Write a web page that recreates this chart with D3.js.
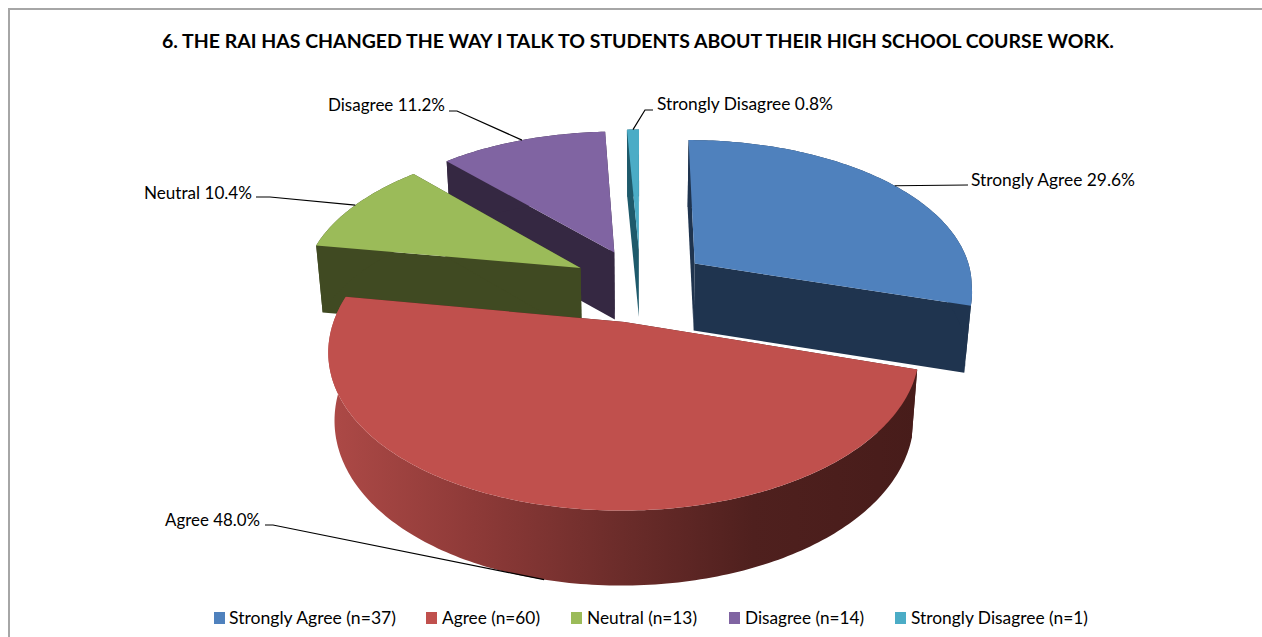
<!DOCTYPE html>
<html>
<head>
<meta charset="utf-8">
<script src="https://cdn.jsdelivr.net/npm/d3@7/dist/d3.min.js"></script>
<style>
html,body{margin:0;padding:0;background:#fff;}
svg{display:block;}
text{font-family:Lato,"Open Sans",sans-serif;fill:#000;}
</style>
</head>
<body>
<svg id="chart" width="1262" height="637"></svg>
<script>
// Survey responses
const categories = ["Strongly Agree", "Agree", "Neutral", "Disagree", "Strongly Disagree"];
const counts = [37, 60, 13, 14, 1];
const percentLabels = ["29.6%", "48.0%", "10.4%", "11.2%", "0.8%"];
const topColors = ["#4F81BD", "#C0504D", "#9BBB59", "#8064A2", "#4BACC6"];
const wallColors = ["#1F344F", "#4A1E1C", "#404A22", "#352842", "#1E5A6B"];
const drawOrder = [4, 3, 0, 2, 1];

const titleText = "6. THE RAI HAS CHANGED THE WAY I TALK TO STUDENTS ABOUT THEIR HIGH SCHOOL COURSE WORK.";

// Label placement: text box left/baseline/width, then the elbow of its leader
const labelX = [971, 165, 144, 328, 657];
const labelY = [186, 526, 199, 111, 110];
const labelW = [164, 95, 108, 117, 176];
const elbowStart = [[968, 185], [265, 525], [256, 197], [449, 111], [653, 110]];
const elbowEnd = [[968, 185], [273, 525], [270, 197], [457, 111], [645, 110]];

// Legend placement
const legendSwatchX = [214, 426, 571, 729, 895];
const legendTextX = [229, 442, 587, 745, 911];
const legendTextW = [167, 98, 110, 119, 177];

// Pie camera
const radius = 279, explode = 0.247;
const cx = 640.5, cy = 285, depthScale = 148, perspY = 0.15, wallShrink = 0.98;

const svg = d3.select("#chart");

// Chart frame: only the top and left edges fall inside the view
svg.append("path").attr("d", "M9 637V9H1262").attr("fill", "none")
  .attr("stroke", "#A6A6A6").attr("stroke-width", 2);

const slices = d3.pie().sort(null).value(d => d)(counts);

function wallHeight(z) {
  return 67 + 8 * Math.max(0, (z - 0.3) / 0.95);
}

// Projects a point on the pie plane (x right, z toward viewer) to the screen
function project(x, z, lower) {
  const sx = 1 / (1 - (z < 0 ? 0.13 : 0.17) * z);
  const px = cx + radius * x * sx;
  const py = cy + depthScale * z / (1 - perspY * z);
  return lower
    ? [cx + (px - cx) * wallShrink, py + wallHeight(z)]
    : [px, py];
}

function rimPoint(slice, a, lower, r = 1) {
  const mid = (slice.startAngle + slice.endAngle) / 2;
  const x = explode * Math.sin(mid) + r * Math.sin(a);
  const z = -explode * Math.cos(mid) - r * Math.cos(a);
  return project(x, z, lower);
}

function rimPoints(slice, lower) {
  const n = Math.max(4, Math.ceil((slice.endAngle - slice.startAngle) * 60));
  return d3.range(n + 1).map(i =>
    rimPoint(slice, slice.startAngle + (slice.endAngle - slice.startAngle) * i / n, lower));
}

const closed = d3.line().curve(d3.curveLinearClosed);

const defs = svg.append("defs");
const shade = defs.append("linearGradient").attr("id", "agreeWall")
  .attr("gradientUnits", "userSpaceOnUse")
  .attr("x1", 325).attr("x2", 920).attr("y1", 0).attr("y2", 0);
[[0, "#AE4A47"], [0.25, "#8E3A38"], [0.5, "#6B2C2A"], [0.72, "#4F201E"], [1, "#471C1A"]]
  .forEach(([o, c]) => shade.append("stop").attr("offset", o).attr("stop-color", c));

const pies = svg.append("g");
drawOrder.forEach(i => {
  const s = slices[i];
  const g = pies.append("g");
  const wall = wallColors[i];
  const apexTop = rimPoint(s, 0, false, 0);
  const apexBot = rimPoint(s, 0, true, 0);

  // Two radial faces
  [s.startAngle, s.endAngle].forEach(a => {
    g.append("path")
      .attr("d", closed([apexTop, rimPoint(s, a, false), rimPoint(s, a, true), apexBot]))
      .attr("fill", wall);
  });

  // Curved outer face
  const upper = rimPoints(s, false), lower = rimPoints(s, true).reverse();
  g.append("path")
    .attr("d", closed(upper.concat(lower)))
    .attr("fill", i === 1 ? "url(#agreeWall)" : wall);

  // Top surface
  g.append("path")
    .attr("d", closed([apexTop].concat(upper)))
    .attr("fill", topColors[i]);
});

// Leader lines run from each label to the middle of its slice's rim
const leaders = svg.append("g").attr("fill", "none").attr("stroke", "#000").attr("stroke-width", 1.2);
slices.forEach((s, i) => {
  const anchor = rimPoint(s, (s.startAngle + s.endAngle) / 2, i === 1);
  leaders.append("path").attr("d", d3.line()([elbowStart[i], elbowEnd[i], anchor]));
});

svg.append("g").selectAll("text").data(categories).join("text")
  .attr("x", (d, i) => labelX[i])
  .attr("y", (d, i) => labelY[i])
  .attr("font-size", 17)
  .attr("textLength", (d, i) => labelW[i])
  .attr("lengthAdjust", "spacingAndGlyphs")
  .text((d, i) => `${d} ${percentLabels[i]}`);

svg.append("text")
  .attr("x", 162).attr("y", 48)
  .attr("font-size", 19.5).attr("font-weight", 700)
  .attr("textLength", 952).attr("lengthAdjust", "spacingAndGlyphs")
  .text(titleText);

const legend = svg.append("g");
categories.forEach((c, i) => {
  legend.append("rect").attr("x", legendSwatchX[i]).attr("y", 612)
    .attr("width", 11).attr("height", 12).attr("fill", topColors[i]);
  legend.append("text").attr("x", legendTextX[i]).attr("y", 624)
    .attr("font-size", 17)
    .attr("textLength", legendTextW[i]).attr("lengthAdjust", "spacingAndGlyphs")
    .text(`${c} (n=${counts[i]})`);
});
</script>
</body>
</html>
